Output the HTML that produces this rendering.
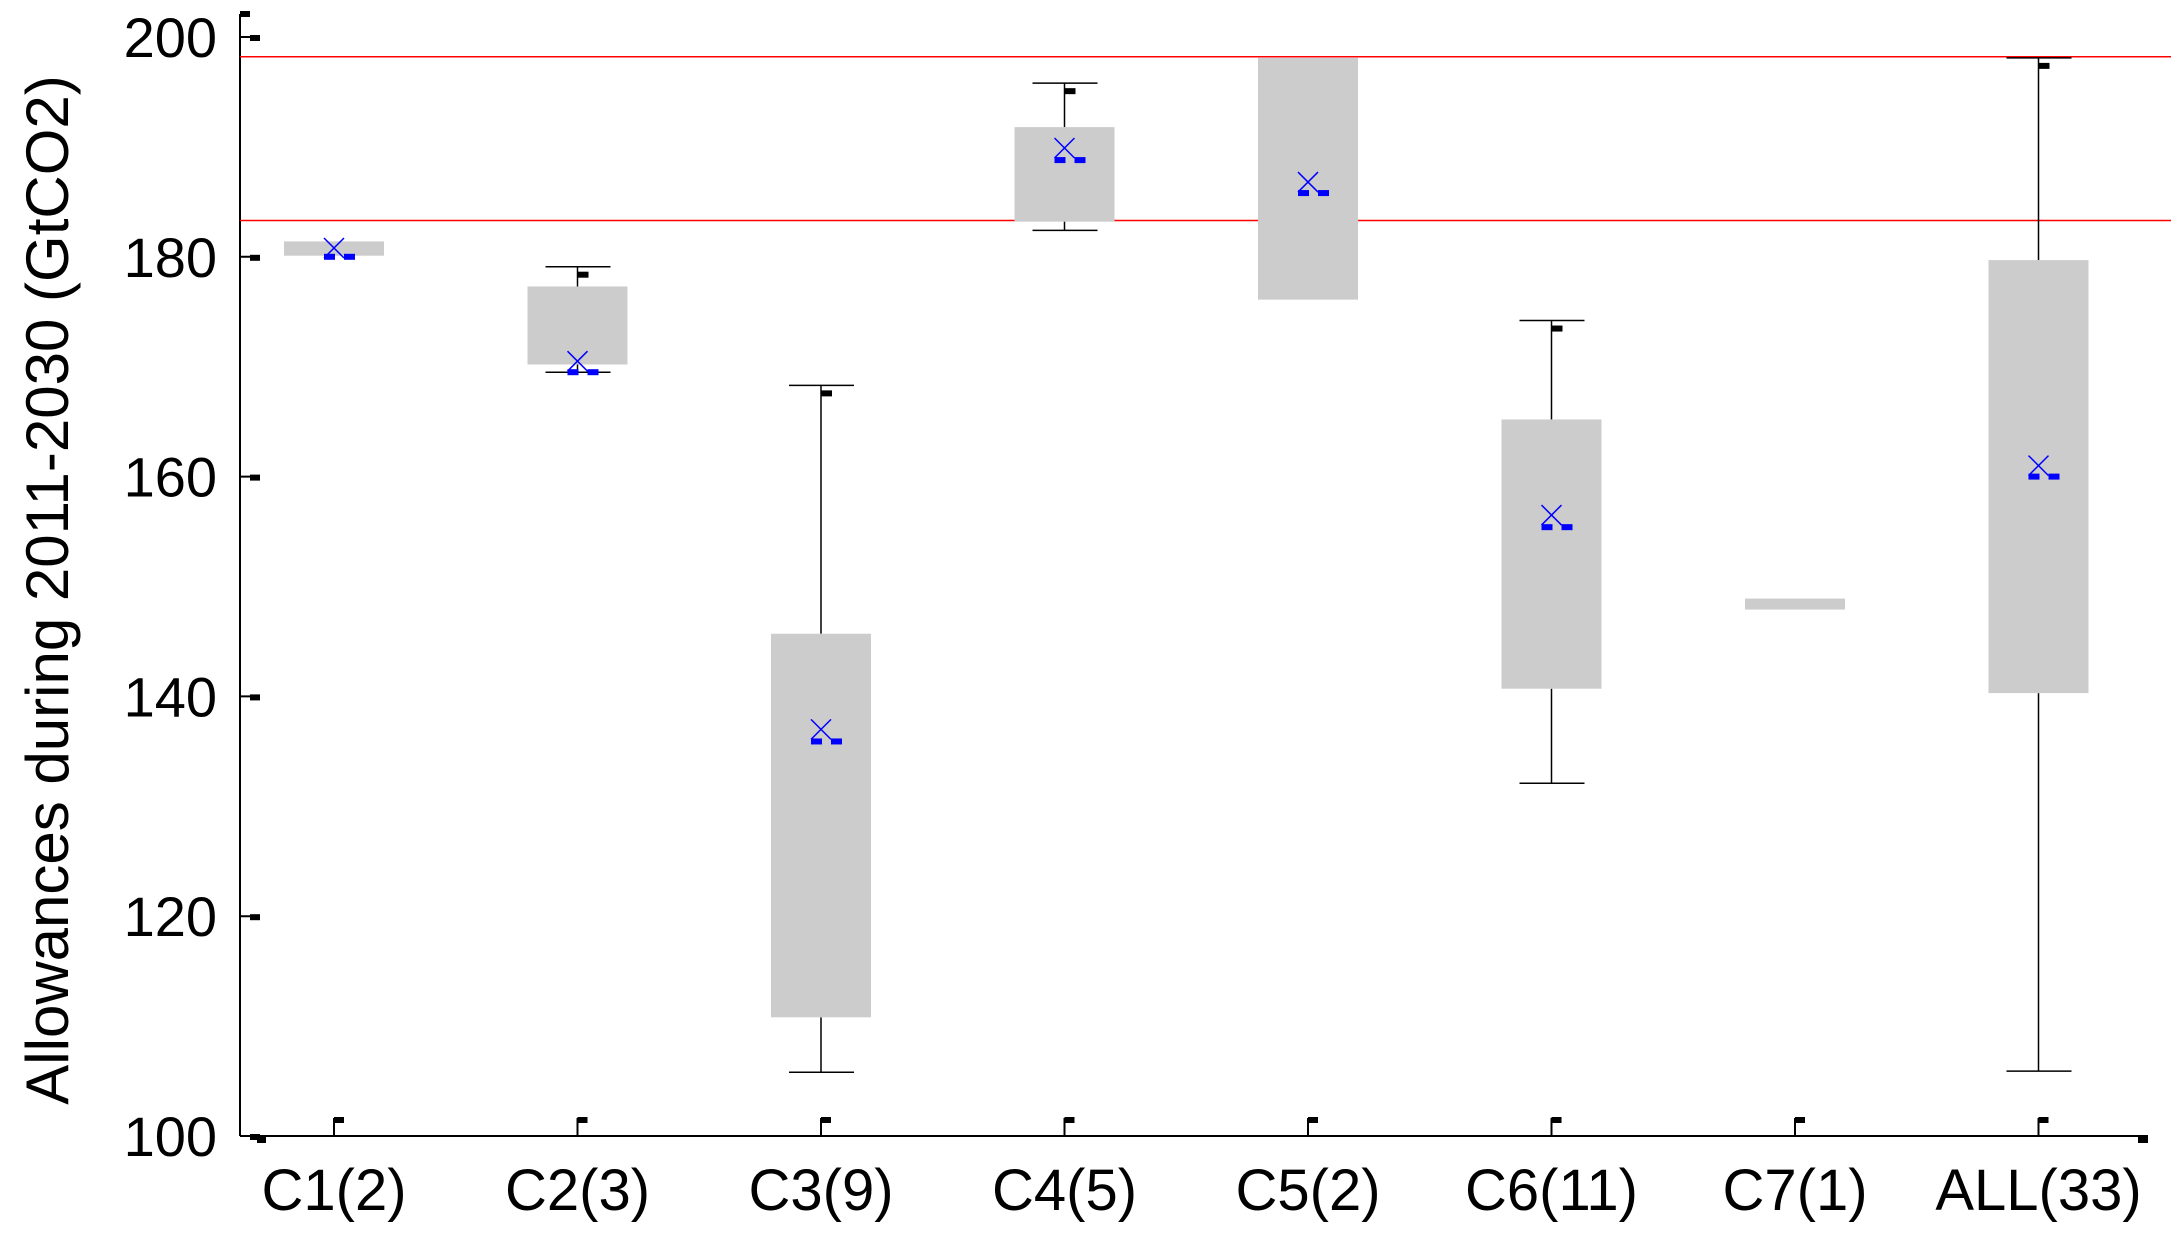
<!DOCTYPE html>
<html><head><meta charset="utf-8"><style>
html,body{margin:0;padding:0;background:#fff}
svg{display:block}
text{font-family:"Liberation Sans",sans-serif;fill:#000}
</style></head><body>
<svg id="chart" width="2171" height="1248" viewBox="0 0 2171 1248" xmlns="http://www.w3.org/2000/svg"></svg>
<script>
const categories=["C1(2)","C2(3)","C3(9)","C4(5)","C5(2)","C6(11)","C7(1)","ALL(33)"];
const q1=[180.1,170.2,110.8,183.2,176.1,140.7,147.9,140.3];
const q3=[181.4,177.3,145.7,191.8,198.1,165.2,148.9,179.7];
const whiskLo=[null,169.5,105.8,182.4,null,132.1,null,105.9];
const whiskHi=[null,179.1,168.3,195.8,null,174.2,null,198.1];
const means=[180.8,170.5,137.0,189.9,186.8,156.5,null,161.0];
const medians=[180.0,169.5,135.9,188.8,185.8,155.4,null,160.0];
const refLines=[198.2,183.3];
const yTicks=[100,120,140,160,180,200];

const NS="http://www.w3.org/2000/svg";
const svg=document.getElementById('chart');
const X0=240,Y100=1136,PPU=10.99;
function y(v){return Y100-(v-100)*PPU;}
function x(i){return 334+243.5*i;}
function mk(tag,attrs,parent){const e=document.createElementNS(NS,tag);for(const k in attrs)e.setAttribute(k,attrs[k]);(parent||svg).appendChild(e);return e;}

let a=mk('line',{x1:X0,y1:14,x2:X0,y2:Y100,stroke:'#000','stroke-width':2});


a=mk('line',{x1:X0,y1:Y100,x2:2148,y2:Y100,stroke:'#000','stroke-width':2});


mk('rect',{x:240,y:11,width:10,height:6,fill:'#000'});
mk('rect',{x:2138,y:1137,width:10,height:6,fill:'#000'});
mk('rect',{x:257,y:1137,width:9,height:6,fill:'#000'});

yTicks.forEach(v=>{
  const g=mk('g',{});
  
  
  mk('line',{x1:X0,y1:y(v),x2:X0+18,y2:y(v),stroke:'#000','stroke-width':2},g);
  mk('rect',{x:X0+10,y:y(v)-2,width:10,height:6,fill:'#000'},g);
  const t=mk('text',{x:217,y:y(v)+20,'font-size':56,'text-anchor':'end'},g);
  t.textContent=v;
});
const yt=mk('text',{x:0,y:0,'font-size':60,'text-anchor':'middle',transform:'translate(68,590) rotate(-90)'});
yt.textContent='Allowances during 2011-2030 (GtCO2)';



refLines.forEach((v,k)=>{
  const l=mk('line',{x1:X0,y1:y(v),x2:2171,y2:y(v),stroke:'#f00','stroke-width':1.5});
  
  
});

categories.forEach((c,i)=>{
  const cx=x(i);
  const g=mk('g',{});
  
  
  mk('line',{x1:cx,y1:Y100,x2:cx,y2:Y100-18,stroke:'#000','stroke-width':2},g);
  mk('rect',{x:cx,y:Y100-19,width:10,height:6,fill:'#000'},g);
  const t=mk('text',{x:cx,y:1210,'font-size':58,'text-anchor':'middle'},g);
  t.textContent=c;
  if(whiskHi[i]!==null){
    mk('line',{x1:cx,y1:y(whiskHi[i]),x2:cx,y2:y(q3[i]),stroke:'#000','stroke-width':1.5},g);
    mk('line',{x1:cx-32,y1:y(whiskHi[i]),x2:cx+33,y2:y(whiskHi[i]),stroke:'#000','stroke-width':1.5},g);
  }
  if(whiskLo[i]!==null){
    mk('line',{x1:cx,y1:y(whiskLo[i]),x2:cx,y2:y(q1[i]),stroke:'#000','stroke-width':1.5},g);
    mk('line',{x1:cx-32,y1:y(whiskLo[i]),x2:cx+33,y2:y(whiskLo[i]),stroke:'#000','stroke-width':1.5},g);
  }
  mk('rect',{x:cx-50,y:y(q3[i]),width:100,height:Math.max(1,y(q1[i])-y(q3[i])),fill:'#cccccc'},g);
  if(whiskHi[i]!==null) mk('rect',{x:cx,y:y(whiskHi[i])+5,width:11,height:6,fill:'#000'},g);
  if(means[i]!==null){
    const my=y(means[i]);
    mk('path',{d:`M${cx-10} ${my-10}L${cx+10} ${my+10}M${cx+10} ${my-10}L${cx-10} ${my+10}`,stroke:'#00f','stroke-width':1.5,fill:'none'},g);
  }
  if(medians[i]!==null){
    const md=y(medians[i]);
    mk('rect',{x:cx-10,y:md-3,width:11,height:6,fill:'#00f'},g);
    mk('rect',{x:cx+10,y:md-3,width:11,height:6,fill:'#00f'},g);
  }
});
</script>
</body></html>
